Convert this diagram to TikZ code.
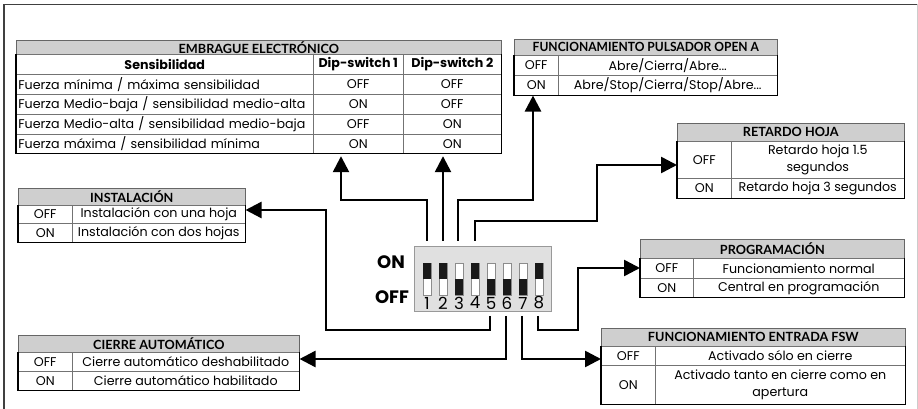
\documentclass[tikz,border=0pt]{standalone}
\usepackage{fontspec}
\setmainfont{Poppins}
\newfontfamily\hdrfamily{Lato}
\usetikzlibrary{arrows.meta}
\newcommand\hdrfnt{\hdrfamily\bfseries\fontsize{9.5}{11}\selectfont}
\newcommand\bodyfnt{\fontsize{9.5}{12.4}\selectfont}
\newcommand\bodybold{\bfseries\fontsize{9.5}{12.4}\selectfont}
\newcommand\Cell[7]{\node[#6, anchor=north west, minimum width={(#4-#2)*0.75pt}, minimum height={(#5-#3)*0.75pt}] (#1) at (#2,#3) {#7};}
\begin{document}
\begin{tikzpicture}[x=0.75pt,y=-0.75pt,
  cell/.style={draw=black!55, line width=0.4pt, inner sep=0pt, align=center, font=\bodyfnt},
  lcell/.style={cell, align=left, text width=219.75pt, inner xsep=1.5pt},
  hdr/.style={draw=black!60, line width=0.5pt, fill=black!19, inner sep=0pt, font=\hdrfnt},
  edge/.style={line width=1.1pt, black},
  wire/.style={line width=1.9pt, black},
  arr/.style={wire, -{Triangle[length=12pt,width=12pt]}},
  sw/.style={draw=black!45, line width=0.3pt, fill=white, minimum width=6.4pt, minimum height=24pt, inner sep=0pt, anchor=north west},
  num/.style={font=\fontsize{12.5}{12.5}\selectfont, inner sep=0pt},
  big/.style={font=\bfseries\fontsize{13.5}{14}\selectfont, inner sep=0pt}]
\useasboundingbox (0,0) rectangle (918,409);
% frame
\draw[black!75, line width=1.1pt] (4,409) -- (4,4.5) -- (917,4.5);
\draw[black!20, line width=0.6pt] (917,4.5) -- (917,409);

% EMBRAGUE ELECTRONICO
\Cell{embh}{16}{40}{501}{54}{hdr}{EMBRAGUE ELECTRÓNICO}
\Cell{emb0a}{16}{54}{313}{74}{cell,font=\bodybold}{Sensibilidad}
\Cell{emb0b}{313}{54}{403}{74}{cell,font=\bodybold}{Dip-switch 1}
\Cell{emb0c}{403}{54}{501}{74}{cell,font=\bodybold}{Dip-switch 2}
\Cell{emb1a}{16}{74}{313}{94}{lcell}{Fuerza mínima / máxima sensibilidad}
\Cell{emb1b}{313}{74}{403}{94}{cell}{OFF}
\Cell{emb1c}{403}{74}{501}{94}{cell}{OFF}
\Cell{emb2a}{16}{94}{313}{114}{lcell}{Fuerza Medio-baja / sensibilidad medio-alta}
\Cell{emb2b}{313}{94}{403}{114}{cell}{ON}
\Cell{emb2c}{403}{94}{501}{114}{cell}{OFF}
\Cell{emb3a}{16}{114}{313}{134}{lcell}{Fuerza Medio-alta / sensibilidad medio-baja}
\Cell{emb3b}{313}{114}{403}{134}{cell}{OFF}
\Cell{emb3c}{403}{114}{501}{134}{cell}{ON}
\Cell{emb4a}{16}{134}{313}{153}{lcell}{Fuerza máxima / sensibilidad mínima}
\Cell{emb4b}{313}{134}{403}{153}{cell}{ON}
\Cell{emb4c}{403}{134}{501}{153}{cell}{ON}
\draw[edge] (emb0a.north west) -- (emb4a.south west) -- (emb4c.south east) -- (emb0c.north east);

% PULSADOR OPEN A
\Cell{pulh}{514}{39}{777}{55}{hdr}{\scalebox{0.95}[1]{FUNCIONAMIENTO PULSADOR OPEN A}}
\Cell{pul1a}{514}{55}{558}{75}{cell}{OFF}
\Cell{pul1b}{558}{55}{777}{75}{cell}{Abre/Cierra/Abre...}
\Cell{pul2a}{514}{75}{558}{95}{cell}{ON}
\Cell{pul2b}{558}{75}{777}{95}{cell}{Abre/Stop/Cierra/Stop/Abre...}
\draw[edge] (pul1a.north west) -- (pul2a.south west) -- (pul2b.south east) -- (pul1b.north east);

% RETARDO HOJA
\Cell{reth}{677}{123}{904}{141}{hdr}{RETARDO HOJA}
\Cell{ret1a}{677}{141}{731}{178}{cell}{OFF}
\Cell{ret1b}{731}{141}{904}{178}{cell}{Retardo hoja 1.5\\segundos}
\Cell{ret2a}{677}{178}{731}{198}{cell}{ON}
\Cell{ret2b}{731}{178}{904}{198}{cell}{Retardo hoja 3 segundos}
\draw[edge] (ret1a.north west) -- (ret2a.south west) -- (ret2b.south east) -- (ret1b.north east);

% INSTALACION
\Cell{insth}{18}{188}{245}{205}{hdr}{INSTALACIÓN}
\Cell{inst1a}{18}{205}{72}{223}{cell}{OFF}
\Cell{inst1b}{72}{205}{245}{223}{cell}{Instalación con una hoja}
\Cell{inst2a}{18}{223}{72}{242}{cell}{ON}
\Cell{inst2b}{72}{223}{245}{242}{cell}{Instalación con dos hojas}
\draw[edge] (inst1a.north west) -- (inst2a.south west) -- (inst2b.south east) -- (inst1b.north east);

% CIERRE AUTOMATICO
\Cell{cieh}{18}{335}{299}{352}{hdr}{CIERRE AUTOMÁTICO}
\Cell{cie1a}{18}{352}{72}{371}{cell}{OFF}
\Cell{cie1b}{72}{352}{299}{371}{cell}{Cierre automático deshabilitado}
\Cell{cie2a}{18}{371}{72}{390}{cell}{ON}
\Cell{cie2b}{72}{371}{299}{390}{cell}{Cierre automático habilitado}
\draw[edge] (cie1a.north west) -- (cie2a.south west) -- (cie2b.south east) -- (cie1b.north east);

% PROGRAMACION
\Cell{progh}{640}{239}{904}{258}{hdr}{PROGRAMACIÓN}
\Cell{prog1a}{640}{258}{693}{278}{cell}{OFF}
\Cell{prog1b}{693}{258}{904}{278}{cell}{Funcionamiento normal}
\Cell{prog2a}{640}{278}{693}{297}{cell}{ON}
\Cell{prog2b}{693}{278}{904}{297}{cell}{Central en programación}
\draw[edge] (prog1a.north west) -- (prog2a.south west) -- (prog2b.south east) -- (prog1b.north east);

% FSW
\Cell{fswh}{601}{328}{905}{346}{hdr}{FUNCIONAMIENTO ENTRADA FSW}
\Cell{fsw1a}{601}{346}{655}{365}{cell}{OFF}
\Cell{fsw1b}{655}{346}{905}{365}{cell}{Activado sólo en cierre}
\Cell{fsw2a}{601}{365}{655}{404}{cell}{ON}
\Cell{fsw2b}{655}{365}{905}{404}{cell}{Activado tanto en cierre como en\\apertura}
\draw[edge] (fsw1a.north west) -- (fsw2a.south west) -- (fsw2b.south east) -- (fsw1b.north east);

% DIP switch
\node[draw=black!40, fill=black!12, line width=0.5pt, minimum width={137*0.75pt}, minimum height={65*0.75pt}, anchor=north west, inner sep=0pt] (dip) at (414,246) {};
\foreach \i/\st in {1/1,2/1,3/0,4/1,5/0,6/0,7/0,8/1} {
  \node[sw] (sw\i) at ({422.5+16*(\i-1)},263) {};
  \ifnum\st=1
    \fill[black!90] (sw\i.north west) rectangle (sw\i.east);
  \else
    \fill[black!90] (sw\i.west) rectangle (sw\i.south east);
  \fi
  \node[num] (n\i) at ({427+16*(\i-1)},303) {\i};
}
\node[big] (lon) at (391,262) {ON};
\node[big] (loff) at (392,297) {OFF};

% wires
\coordinate (w1) at (427,241);
\coordinate (w2) at (443,241);
\coordinate (w3) at (458,241);
\coordinate (w4) at (475,241);
\coordinate (w5) at (490,316);
\coordinate (w6) at (506,316);
\coordinate (w7) at (522,316);
\coordinate (w8) at (538,316);
\coordinate (b1) at (341,200);
\coordinate (b3) at (533,200);
\coordinate (b4) at (597,221);
\coordinate (c4) at (597,165);
\coordinate (b5) at (326,330);
\coordinate (c5) at (326,210);
\coordinate (b6) at (506,359);
\coordinate (b7) at (522,359);
\coordinate (b8) at (578,330);
\coordinate (c8) at (578,268);

\draw[arr, shorten >=2pt] (w1) |- (b1) -- (b1 |- emb4b.south);
\draw[arr, shorten >=2pt] (w2) -- (w2 |- emb4c.south);
\draw[arr] (w3) |- (b3) -- (b3 |- pul2a.south);
\draw[arr] (w4) |- (b4) -- (c4) -- (c4 -| ret1a.west);
\draw[arr] (w5) |- (b5) -- (c5) -- (c5 -| inst1b.east);
\draw[arr] (w6) -- (b6) -- (b6 -| cie1b.east);
\draw[arr] (w7) -- (b7) -- (b7 -| fsw1a.west);
\draw[arr] (w8) |- (b8) -- (c8) -- (c8 -| prog1a.west);
\end{tikzpicture}
\end{document}
